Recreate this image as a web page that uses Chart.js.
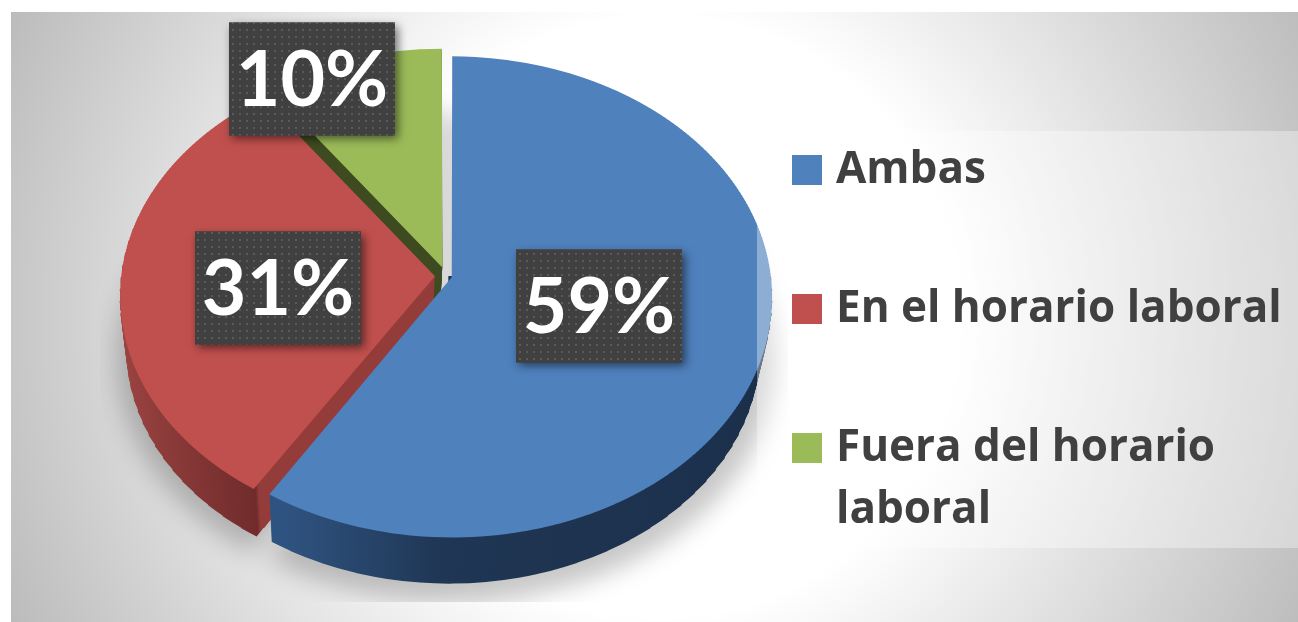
<!DOCTYPE html>
<html><head><meta charset="utf-8">
<style>html,body{margin:0;padding:0;background:#fff;overflow:hidden}#w{width:1298px;height:622px}</style>
<script src="https://cdn.jsdelivr.net/npm/chart.js@4"></script></head>
<body><div id="w"><canvas id="c" width="1298" height="622"></canvas></div>
<script>
const categories = ['Ambas', 'En el horario laboral', ['Fuera del horario', 'laboral']];
const shares = [59, 31, 10];
const sliceColors = ['#4f81bd', '#c0504d', '#9bbb59'];

// perspective of the tilted pie: screen Y = a*n/(1+b*n), screen X = c*u/(1+b*n), n = v/R0
const view = {a: 238, b: -0.0814, c: 1, R0: 318, wallDrop: 54, wallShrink: 0.03, wallSlide: -3};
const labelCenters = [[599, 306], [278, 288], [312, 79]];

const unmapY = Y => view.R0 * Y / (view.a - view.b * Y);

function strips(ctx, arc, paint, step, dy = 0, zoom = 1, dx = 0) {
  const {x: cx, y: cy} = arc;
  const W = ctx.canvas.width;
  for (let Y0 = -252; Y0 < 276; Y0 += step) {
    const Y1 = Y0 + step, v0 = unmapY(Y0), v1 = unmapY(Y1), vm = (v0 + v1) / 2;
    const sx = view.c / (1 + view.b * vm / view.R0);
    const top = Math.round(cy + dy + zoom * Y0), bot = Math.round(cy + dy + zoom * Y1);
    ctx.save();
    ctx.beginPath(); ctx.rect(-200, top, W + 400, bot - top); ctx.clip();
    ctx.translate(cx + dx, cy + dy + zoom * Y0);
    ctx.transform(zoom * sx, 0, 0, zoom * (Y1 - Y0) / (v1 - v0), 0, 0);
    ctx.translate(-cx, -v0 - cy);
    paint();
    ctx.restore();
  }
}
function paintAs(ctx, arc, color) {
  const o = arc.options;
  arc.options = {backgroundColor: color, borderColor: color, borderWidth: 0, offset: o.offset,
    spacing: o.spacing, borderAlign: o.borderAlign, circular: o.circular, borderRadius: o.borderRadius,
    borderJoinStyle: o.borderJoinStyle, borderDash: o.borderDash, borderDashOffset: o.borderDashOffset};
  arc.draw(ctx);
  arc.options = o;
}
function wallFill(ctx, i) {
  const g = ctx.createLinearGradient(110, 0, 780, 0);
  const at = x => (x - 110) / 670;
  if (i === 0) {
    g.addColorStop(at(290), '#2f5380'); g.addColorStop(at(440), '#1f3654');
    g.addColorStop(1, '#1b2f4a');
  } else if (i === 1) {
    g.addColorStop(0, '#a34846'); g.addColorStop(at(279), '#702c2b');
    g.addColorStop(at(282), '#943c3a'); g.addColorStop(1, '#943c3a');
  } else {
    g.addColorStop(0, '#3e4a1f'); g.addColorStop(1, '#3e4a1f');
  }
  return g;
}
const dots = (() => {
  const p = document.createElement('canvas'); p.width = 7; p.height = 7;
  const c = p.getContext('2d');
  c.fillStyle = '#404040'; c.fillRect(0, 0, 7, 7);
  c.fillStyle = '#5a5a5a'; c.fillRect(1, 1, 2, 2);
  return p;
})();

const pie3d = {
  id: 'pie3d',
  beforeInit(chart) {
    const lg = chart.legend;
    lg._layers = () => [{z: 1, draw: a => lg.draw(a)}];
  },
  afterLayout(chart) {
    const lg = chart.legend, p = lg.options.labels.padding;
    lg.left = 800 - p; lg.right = 1298; lg.top = 148 - p; lg.bottom = 622;
  },
  beforeDraw(chart) {
    const ctx = chart.ctx, W = chart.width, H = chart.height;
    ctx.save();
    const g = ctx.createRadialGradient(660, 317, 300, 660, 317, 715);
    g.addColorStop(0, '#ffffff'); g.addColorStop(1, '#bcbcbc');
    ctx.fillStyle = g; ctx.fillRect(11, 12, W - 11, H - 12);
    ctx.restore();
  },
  beforeDatasetsDraw(chart) {
    const ctx = chart.ctx, arcs = chart.getDatasetMeta(0).data;
    // soft ground shadow, cut to its own rectangle
    const off = document.createElement('canvas'); off.width = chart.width; off.height = chart.height;
    const oc = off.getContext('2d');
    arcs.forEach(a => strips(oc, a, () => paintAs(oc, a, '#000'), 8, 62, 1.01));
    ctx.save();
    ctx.beginPath(); ctx.rect(100, 90, 688, 512); ctx.clip();
    ctx.filter = 'blur(12px)'; ctx.globalAlpha = 0.22;
    ctx.drawImage(off, 0, 0);
    ctx.restore();
    // extruded walls, back slices first; the lower rim is further away, so slightly smaller
    [2, 1, 0].forEach(i => {
      const a = arcs[i], fill = wallFill(ctx, i);
      ctx.save();
      if (i === 0) { // the rear face of the large slice is turned away from the viewer
        ctx.beginPath(); ctx.rect(0, a.y, chart.width, chart.height - a.y); ctx.clip();
      }
      for (let d = view.wallDrop; d >= 1; d--) {
        const t = d / view.wallDrop;
        strips(ctx, a, () => paintAs(ctx, a, fill), 12, d, 1 - view.wallShrink * t, view.wallSlide * t);
      }
      ctx.restore();
    });
  },
  beforeDatasetDraw(chart, args) {
    const ctx = chart.ctx, meta = args.meta;
    strips(ctx, meta.data[0], () => meta.controller.draw(), 3);
    return false;
  },
  afterDatasetsDraw(chart) {
    const ctx = chart.ctx, vals = chart.data.datasets[0].data;
    ctx.save();
    ctx.fillStyle = 'rgba(255,255,255,0.35)';
    ctx.fillRect(757, 131, 541, 417);
    const pat = ctx.createPattern(dots, 'repeat');
    vals.forEach((v, i) => {
      const [x, y] = labelCenters[i], w = 166, h = 113;
      ctx.save();
      ctx.shadowColor = 'rgba(0,0,0,0.55)'; ctx.shadowBlur = 9; ctx.shadowOffsetX = 3; ctx.shadowOffsetY = 3;
      ctx.fillStyle = '#404040'; ctx.fillRect(x - w / 2, y - h / 2, w, h);
      ctx.restore();
      ctx.fillStyle = pat; ctx.fillRect(x - w / 2, y - h / 2, w, h);
      ctx.fillStyle = '#fff'; ctx.font = 'bold 77px Lato';
      ctx.textAlign = 'center'; ctx.textBaseline = 'middle';
      ctx.fillText(v + '%', x, y + 2);
    });
    ctx.restore();
  }
};

new Chart(document.getElementById('c'), {
  type: 'pie',
  data: {labels: categories, datasets: [{
    data: shares, backgroundColor: sliceColors, borderWidth: 0,
    offset: [24, 44, 48], radius: 313, clip: false
  }]},
  options: {
    responsive: false, animation: false,
    layout: {padding: {left: 0, top: 0, right: 406, bottom: 70}},
    plugins: {
      tooltip: {enabled: false},
      legend: {
        position: 'chartArea', align: 'start',
        labels: {
          boxWidth: 14, boxHeight: 14, padding: 95,
          color: '#404040', font: {family: 'Open Sans', weight: 'bold', size: 44, lineHeight: 1.43},
          generateLabels(chart) {
            const base = Chart.overrides.pie.plugins.legend.labels.generateLabels(chart);
            return base.map(it => Object.assign(it, {strokeStyle: it.fillStyle, lineWidth: 16, lineJoin: 'miter'}));
          }
        }
      }
    }
  },
  plugins: [pie3d]
});
</script></body></html>
